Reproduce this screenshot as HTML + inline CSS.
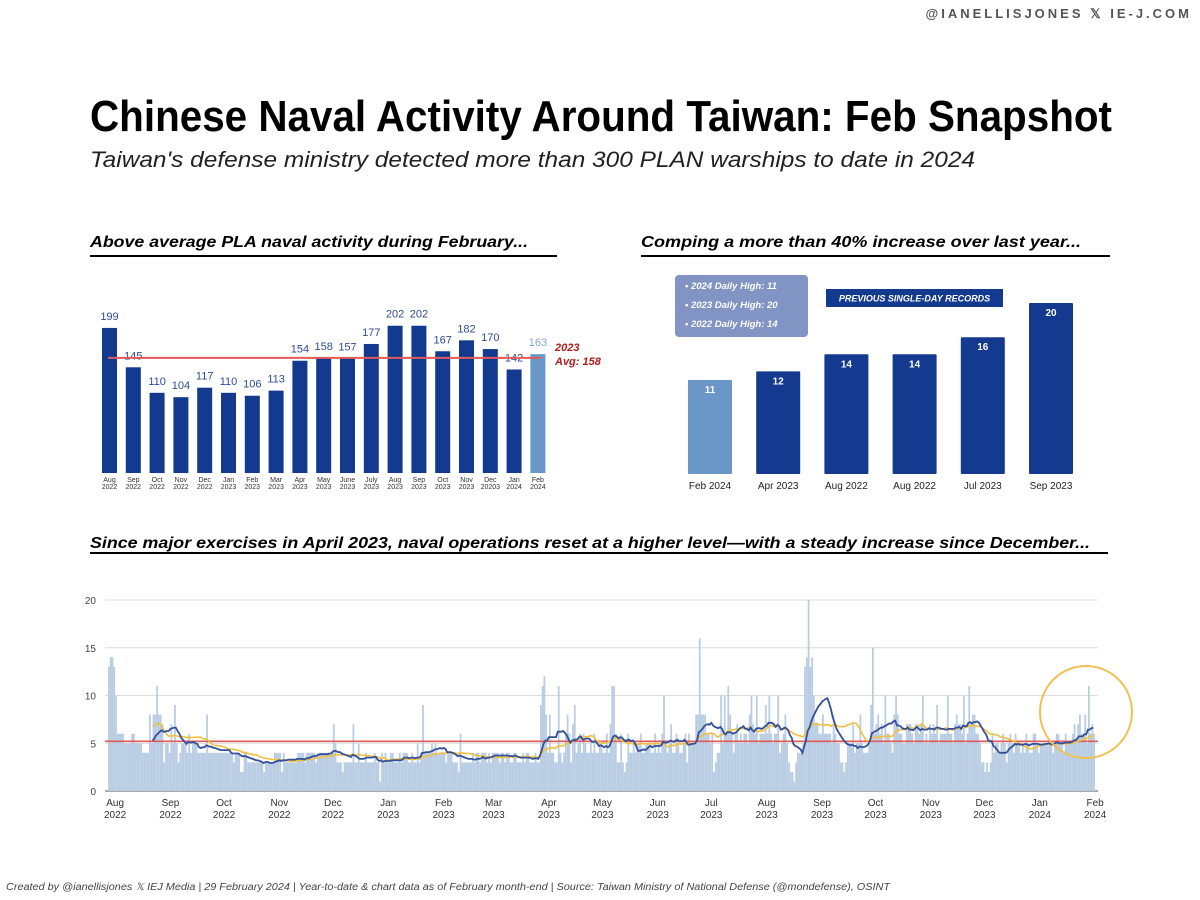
<!DOCTYPE html>
<html><head><meta charset="utf-8"><style>
html,body{margin:0;padding:0;background:#fff;}
svg{display:block;font-family:"Liberation Sans",sans-serif;}
</style></head><body>
<svg id="s" width="1200" height="900" viewBox="0 0 1200 900">
<text x="1192" y="18" text-anchor="end" font-size="13" font-weight="bold" fill="#555" letter-spacing="3">@IANELLISJONES 𝕏 IE-J.COM</text>
<text x="90" y="131" font-size="44" font-weight="bold" fill="#000" textLength="1022" lengthAdjust="spacingAndGlyphs">Chinese Naval Activity Around Taiwan: Feb Snapshot</text>
<text x="90" y="167" font-size="22" font-style="italic" fill="#222" textLength="885" lengthAdjust="spacingAndGlyphs">Taiwan's defense ministry detected more than 300 PLAN warships to date in 2024</text>

<text x="90" y="247" font-size="16" font-weight="bold" font-style="italic" textLength="438" lengthAdjust="spacingAndGlyphs">Above average PLA naval activity during February...</text>
<rect x="90" y="255" width="467" height="2" fill="#000"/>
<text x="641" y="247" font-size="16" font-weight="bold" font-style="italic" textLength="440" lengthAdjust="spacingAndGlyphs">Comping a more than 40% increase over last year...</text>
<rect x="641" y="255" width="469" height="2" fill="#000"/>
<text x="90" y="548" font-size="16" font-weight="bold" font-style="italic" textLength="1000" lengthAdjust="spacingAndGlyphs">Since major exercises in April 2023, naval operations reset at a higher level—with a steady increase since December...</text>
<rect x="90" y="552" width="1018" height="2" fill="#000"/>

<g id="g1"></g>
<g id="g2"></g>
<g id="g3"></g>

<text x="6" y="890" font-size="10" font-style="italic" fill="#444" textLength="884" lengthAdjust="spacingAndGlyphs">Created by @ianellisjones 𝕏 IEJ Media | 29 February 2024 | Year-to-date &amp; chart data as of February month-end | Source: Taiwan Ministry of National Defense (@mondefense), OSINT</text>
</svg>
<script>
const NS="http://www.w3.org/2000/svg";
const monthCats=["Aug|2022","Sep|2022","Oct|2022","Nov|2022","Dec|2022","Jan|2023","Feb|2023","Mar|2023","Apr|2023","May|2023","June|2023","July|2023","Aug|2023","Sep|2023","Oct|2023","Nov|2023","Dec|20203","Jan|2024","Feb|2024"];
const monthVals=[199,145,110,104,117,110,106,113,154,158,157,177,202,202,167,182,170,142,163];
const avg2023=158;
const recCats=["Feb 2024","Apr 2023","Aug 2022","Aug 2022","Jul 2023","Sep 2023"];
const recVals=[11,12,14,14,16,20];
const dailyMonths=["Aug|2022","Sep|2022","Oct|2022","Nov|2022","Dec|2022","Jan|2023","Feb|2023","Mar|2023","Apr|2023","May|2023","Jun|2023","Jul|2023","Aug|2023","Sep|2023","Oct|2023","Nov|2023","Dec|2023","Jan|2024","Feb|2024"];
const daily=[
13,14,14,13,10,6,6,6,6,5,5,5,5,6,6,5,5,5,5,4,4,4,4,8,5,8,8,11,8,8,7,
3,5,5,4,7,5,9,5,3,4,5,5,5,4,6,4,5,5,5,4,4,4,4,4,8,4,4,4,4,4,
4,4,4,4,4,4,4,4,4,3,4,4,4,2,2,4,4,3,3,3,3,3,3,3,3,3,2,3,3,3,3,
3,4,4,4,4,2,4,3,3,3,3,3,3,3,4,4,4,4,3,4,4,4,4,4,3,4,4,4,4,4,
4,4,4,4,7,5,3,3,3,2,3,3,3,3,3,7,3,3,5,3,3,3,4,3,3,3,3,4,3,3,1,
4,3,4,3,3,4,4,3,3,3,4,3,4,4,4,3,3,4,3,3,5,3,4,9,4,4,4,4,5,4,5,
4,4,4,4,4,3,4,4,4,3,3,3,2,6,3,3,3,3,3,3,4,3,4,4,3,4,4,4,
3,4,3,4,4,4,4,3,4,4,3,4,4,3,3,4,4,3,3,3,4,3,4,4,3,3,3,4,3,3,9,
11,12,8,4,8,4,4,3,3,11,4,3,4,6,8,6,3,7,9,4,5,6,4,6,5,4,4,5,4,6,
4,4,5,5,4,4,6,4,7,11,11,6,3,3,6,3,2,3,6,4,4,5,4,5,5,6,4,4,5,5,5,
4,4,6,4,5,4,6,10,5,4,5,7,4,4,6,5,4,4,5,6,3,6,5,5,5,8,8,16,8,8,
8,6,6,5,6,2,3,4,4,10,5,10,6,11,8,6,4,6,7,5,6,5,6,6,5,8,10,7,6,10,5,
6,6,6,9,6,10,6,5,6,6,10,4,5,6,8,5,3,2,2,1,3,4,4,4,5,13,14,20,13,14,10,
7,7,6,6,8,6,6,6,6,5,8,6,5,5,3,3,2,3,5,5,5,7,4,5,5,8,5,4,4,4,
5,9,15,6,7,8,6,7,5,10,6,6,5,4,8,10,8,6,6,5,5,7,7,7,6,5,7,7,6,7,10,
5,6,5,7,6,7,6,9,5,6,6,6,6,10,6,6,5,7,8,7,7,6,10,5,6,11,7,8,8,6,
6,5,3,3,2,3,2,3,6,4,5,5,4,5,6,5,3,5,6,5,4,6,5,5,4,5,4,6,5,4,4,
6,6,5,4,5,5,5,5,5,5,5,4,5,6,6,5,5,4,6,5,5,5,6,7,5,7,8,6,6,8,5,
11,6,7,6];
const monthLens=[31,30,31,30,31,31,28,31,30,31,30,31,31,30,31,30,31,31,4];
const yTicks=[0,5,10,15,20];
const refLine=5.2;

function mk(tag,attrs,parent,txt){const e=document.createElementNS(NS,tag);for(const k in attrs)e.setAttribute(k,attrs[k]);if(txt!==undefined)e.textContent=txt;parent.appendChild(e);return e;}

// Chart 1
const g1=document.getElementById('g1');
const x1=i=>102+i*23.8, y1=v=>473-v*0.729;
monthVals.forEach((v,i)=>{
  const light=i===monthVals.length-1;
  const r=mk('rect',{x:x1(i),y:y1(v),width:15,height:473-y1(v),fill:light?'#6b96c8':'#133a8e'},g1);
  
  
  const t=mk('text',{x:x1(i)+7.5,y:y1(v)-8,'text-anchor':'middle','font-size':11,fill:light?'#84a4cf':'#2f4b96'},g1,v);
  
  
  const [a,b]=monthCats[i].split('|');
  const l=mk('text',{x:x1(i)+7.5,y:482,'text-anchor':'middle','font-size':7,fill:'#333'},g1);
  
  
  mk('tspan',{x:x1(i)+7.5,dy:0},l,a);mk('tspan',{x:x1(i)+7.5,dy:7},l,b);
});
const al=mk('line',{x1:108,x2:541,y1:y1(avg2023),y2:y1(avg2023),stroke:'#e05a5a','stroke-width':2},g1);


const at=mk('text',{x:555,y:351,'font-size':11,'font-weight':'bold','font-style':'italic',fill:'#b01c1c'},g1);


mk('tspan',{x:555,dy:0},at,'2023');mk('tspan',{x:555,dy:14},at,'Avg: '+avg2023);

// Chart 2
const g2=document.getElementById('g2');
const x2=i=>688+i*68.2, y2=v=>474-v*8.55;
recVals.forEach((v,i)=>{
  const r=mk('rect',{x:x2(i),y:y2(v),width:44,height:474-y2(v),fill:i===0?'#6b96c8':'#133a8e',rx:1},g2);
  
  
  const t=mk('text',{x:x2(i)+22,y:y2(v)+13,'text-anchor':'middle','font-size':10,'font-weight':'bold',fill:'#fff'},g2,v);
  
  
  const l=mk('text',{x:x2(i)+22,y:489,'text-anchor':'middle','font-size':10,fill:'#222'},g2,recCats[i]);
  
  
});
const lb=mk('rect',{x:675,y:275,width:133,height:62,rx:4,fill:'#8294c4'},g2);


["2024 Daily High: 11","2023 Daily High: 20","2022 Daily High: 14"].forEach((s,i)=>{
  const t=mk('text',{x:685,y:289+i*19,'font-size':9.5,'font-weight':'bold','font-style':'italic',fill:'#fff'},g2,'•  '+s);
  
  
});
const pb=mk('rect',{x:826,y:289,width:177,height:18,fill:'#133a8e'},g2);


const pt=mk('text',{x:914.5,y:301.5,'text-anchor':'middle','font-size':9,'font-weight':'bold','font-style':'italic',fill:'#fff'},g2,'PREVIOUS SINGLE-DAY RECORDS');



// Chart 3
const g3=document.getElementById('g3');
const x3=i=>108+i*1.785, y3=v=>791-v*9.55;
yTicks.forEach(v=>{
  const gl=mk('line',{x1:105,x2:1098,y1:y3(v),y2:y3(v),stroke:v===0?'#555':'#dcdcdc','stroke-width':1},g3);
  
  
  const t=mk('text',{x:96,y:y3(v)+4,'text-anchor':'end','font-size':10,fill:'#444'},g3,v);
  
  
});
daily.forEach((v,i)=>{
  const r=mk('rect',{x:x3(i),y:y3(v),width:1.75,height:791-y3(v),fill:'#b8cce3'},g3);
  
  
});
function rolling(w){const out=[];for(let i=0;i<daily.length;i++){let s=0,n=0;for(let j=Math.max(0,i-w+1);j<=i;j++){s+=daily[j];n++;}out.push(s/n);}return out;}
function pathOf(arr,start){let d='';for(let i=start;i<arr.length;i++)d+=(i===start?'M':'L')+x3(i).toFixed(1)+','+y3(arr[i]).toFixed(1);return d;}
const rl=mk('line',{x1:105,x2:1098,y1:y3(refLine),y2:y3(refLine),stroke:'#e05a5a','stroke-width':1.6},g3);


const ya=mk('path',{d:pathOf(rolling(30),25),fill:'none',stroke:'#f0c040','stroke-width':1.6},g3);


const ba=mk('path',{d:pathOf(rolling(14),25),fill:'none',stroke:'#34509a','stroke-width':1.8},g3);


let idx=0;
dailyMonths.forEach((m,k)=>{
  const [a,b]=m.split('|');
  const xx=x3(idx+4);
  const t=mk('text',{x:xx,y:806,'text-anchor':'middle','font-size':10,fill:'#333'},g3);
  
  
  mk('tspan',{x:xx,dy:0},t,a);mk('tspan',{x:xx,dy:12},t,b);
  idx+=monthLens[k];
});
const c=mk('circle',{cx:1086,cy:712,r:46,fill:'none',stroke:'#f0c050','stroke-width':2},g3);


</script>
</body></html>
